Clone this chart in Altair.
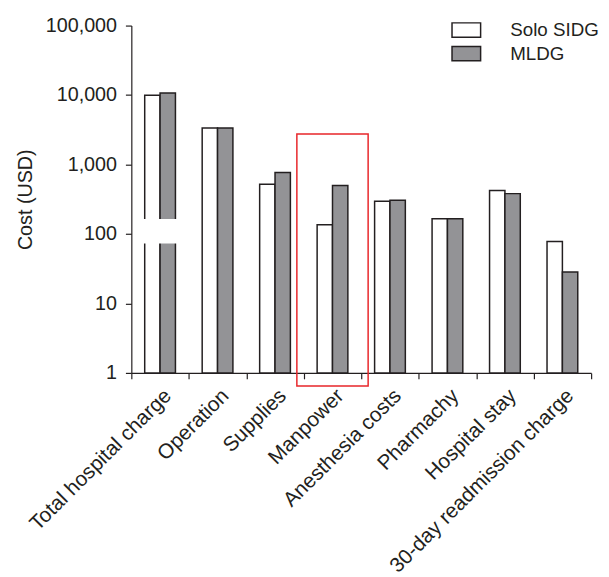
import altair as alt
import pandas as pd

categories = ["Total hospital charge", "Operation", "Supplies", "Manpower",
              "Anesthesia costs", "Pharmachy", "Hospital stay", "30-day readmission charge"]
groups = ["Solo SIDG", "MLDG"]
solo = [9900, 3360, 520, 136, 296, 166, 424, 78]
mldg = [10700, 3360, 765, 500, 306, 166, 381, 28.4]
y_ticks = [1, 10, 100, 1000, 10000, 100000]
baseline = 1

# axis-break gap on the first group, and highlight box around Manpower
break_cat = ["Total hospital charge"]
break_lo = [73]
break_hi = [164]
box_cat = ["Manpower"]
box_lo = [0.65]
box_hi = [2740]

rows = []
for c, s, m in zip(categories, solo, mldg):
    rows.append({"cat": c, "group": groups[0], "value": s, "base": baseline})
    rows.append({"cat": c, "group": groups[1], "value": m, "base": baseline})
df = pd.DataFrame(rows)
df_break = pd.DataFrame({"cat": break_cat, "lo": break_lo, "hi": break_hi})
df_box = pd.DataFrame({"cat": box_cat, "lo": box_lo, "hi": box_hi})

FONT = "Liberation Sans"
TXT = "#231f20"

x_enc = alt.X("cat:N", sort=categories, title=None,
              scale=alt.Scale(paddingInner=0, paddingOuter=0),
              axis=alt.Axis(labelAngle=-45, labelFontSize=21, labelFont=FONT, labelColor=TXT,
                            tickBand="extent", tickSize=6, tickColor=TXT, domainColor=TXT,
                            tickWidth=1.2, domainWidth=1.2, labelPadding=6, labelLimit=400))
y_scale = alt.Scale(type="log", domain=[1, 100000], nice=False)

bars = alt.Chart(df).mark_bar(stroke="#231f20", strokeWidth=1.5).encode(
    x=x_enc,
    xOffset=alt.XOffset("group:N", sort=groups,
                        scale=alt.Scale(paddingInner=0, paddingOuter=0.87)),
    y=alt.Y("value:Q", scale=y_scale, title="Cost (USD)",
            axis=alt.Axis(values=y_ticks, format=",.0f", labelFontSize=20, labelFont=FONT,
                          labelColor=TXT, titleFontSize=20, titleFont=FONT, titleFontWeight="normal",
                          titleColor=TXT, tickSize=6, tickColor=TXT, domainColor=TXT,
                          tickWidth=1.2, domainWidth=1.2, labelPadding=9, titlePadding=10,
                          grid=False)),
    y2="base:Q",
    fill=alt.Fill("group:N", sort=groups,
                  scale=alt.Scale(domain=groups, range=["#ffffff", "#939396"]),
                  legend=alt.Legend(title=None, orient="none", legendX=330, legendY=-5,
                                    symbolType="M-2,-1L2,-1L2,1L-2,1Z", symbolSize=210,
                                    symbolStrokeColor="#231f20", symbolStrokeWidth=1.5,
                                    labelFontSize=19, labelFont=FONT, labelColor=TXT,
                                    labelOffset=35, rowPadding=3, padding=0)),
)

gap = alt.Chart(df_break).mark_bar(width=alt.RelativeBandSize(0.75), color="white").encode(
    x=alt.X("cat:N", sort=categories),
    y=alt.Y("lo:Q", scale=y_scale),
    y2="hi:Q",
)

box = alt.Chart(df_box).mark_bar(width=alt.RelativeBandSize(1.24), fillOpacity=0,
                                 stroke="#e8262a", strokeWidth=1.5).encode(
    x=alt.X("cat:N", sort=categories),
    y=alt.Y("lo:Q", scale=y_scale),
    y2="hi:Q",
)

chart = alt.layer(bars, gap, box).properties(
    width=466, height=352,
    autosize=alt.AutoSizeParams(type="none"),
    padding={"left": 125, "top": 14, "right": 10, "bottom": 200},
).configure_view(stroke=None)

chart.save("out.html", embed_options={"renderer": "svg", "actions": False})
